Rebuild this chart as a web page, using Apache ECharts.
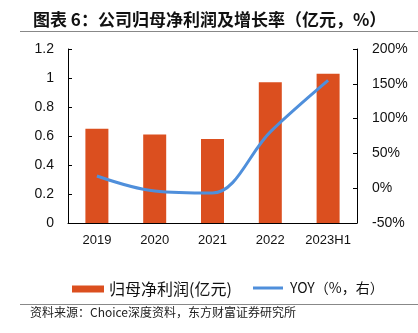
<!DOCTYPE html>
<html><head><meta charset="utf-8">
<script src="https://cdn.jsdelivr.net/npm/echarts@6/dist/echarts.min.js"></script>
<style>html,body{margin:0;padding:0;background:#fff}#c{width:418px;height:333px}</style>
</head><body><div id="c"></div>
<script>
var categories = ['2019', '2020', '2021', '2022', '2023H1'];
var profit = [0.65, 0.61, 0.58, 0.97, 1.03];
var yoy = [17.5, -4, -7, 81, 155];
var leftTicks = {min: 0, max: 1.2, interval: 0.2};
var rightTicks = {min: -50, max: 200, interval: 50};

var chart = echarts.init(document.getElementById('c'));
var cjk = '"Noto Sans CJK SC", sans-serif';
var lat = '"Liberation Sans", Arial, sans-serif';
chart.setOption({
  animation: false,
  title: {
    text: '图表 6：公司归母净利润及增长率（亿元，%）',
    left: 28, top: 6,
    textStyle: {fontFamily: cjk, fontSize: 17, fontWeight: 'bold', color: '#111'}
  },
  graphic: [
    {type: 'line', shape: {x1: 20, y1: 31.5, x2: 418, y2: 31.5}, style: {stroke: '#888', lineWidth: 1}},
    {type: 'line', shape: {x1: 20, y1: 304.5, x2: 418, y2: 304.5}, style: {stroke: '#888', lineWidth: 1}},
    {type: 'text', left: 30, top: 306, style: {text: '资料来源：Choice深度资料，东方财富证券研究所', font: '12px ' + cjk, fill: '#222'}}
  ],
  grid: {left: 68, right: 61, top: 49, bottom: 110},
  legend: [
    {
      left: 67, top: 276,
      textStyle: {fontFamily: cjk, fontSize: 16, color: '#111'},
      data: [{name: '归母净利润(亿元)', icon: 'rect', itemStyle: {color: '#DB4F1F'}}],
      itemWidth: 32, itemHeight: 7
    },
    {
      left: 248, top: 276,
      textStyle: {fontFamily: cjk, fontSize: 14, color: '#111'},
      data: [{name: 'YOY（%，右）', icon: 'path://M0,0 L10,0 L10,1 L0,1 Z', itemStyle: {color: '#4F8FDB'}}],
      itemWidth: 34, itemHeight: 3
    }
  ],
  xAxis: {
    type: 'category', data: categories,
    axisLine: {lineStyle: {color: '#000', width: 1}},
    axisTick: {inside: true, length: 4, alignWithLabel: false, interval: 0, lineStyle: {color: '#000'}},
    axisLabel: {fontFamily: lat, fontSize: 13, color: '#111', margin: 11, interval: 0}
  },
  yAxis: [
    {
      type: 'value', min: leftTicks.min, max: leftTicks.max, interval: leftTicks.interval,
      splitLine: {show: false},
      axisLine: {show: true, lineStyle: {color: '#000'}},
      axisTick: {show: true, inside: true, length: 4, lineStyle: {color: '#000'}},
      axisLabel: {fontFamily: lat, fontSize: 14, color: '#111', margin: 14,
        formatter: function (v) { return String(parseFloat(v.toFixed(1))); }}
    },
    {
      type: 'value', min: rightTicks.min, max: rightTicks.max, interval: rightTicks.interval,
      position: 'right',
      splitLine: {show: false},
      axisLine: {show: true, lineStyle: {color: '#000'}},
      axisTick: {show: true, inside: true, length: 4, lineStyle: {color: '#000'}},
      axisLabel: {fontFamily: lat, fontSize: 14, color: '#111', margin: 15, formatter: '{value}%'}
    }
  ],
  series: [
    {
      name: '归母净利润(亿元)', type: 'bar', data: profit, barWidth: 23,
      itemStyle: {color: '#DB4F1F'}
    },
    {
      name: 'YOY（%，右）', type: 'line', yAxisIndex: 1, data: yoy, smooth: 0.35,
      symbol: 'none', lineStyle: {color: '#4F8FDB', width: 3}, itemStyle: {color: '#4F8FDB'}
    }
  ]
});
</script></body></html>
